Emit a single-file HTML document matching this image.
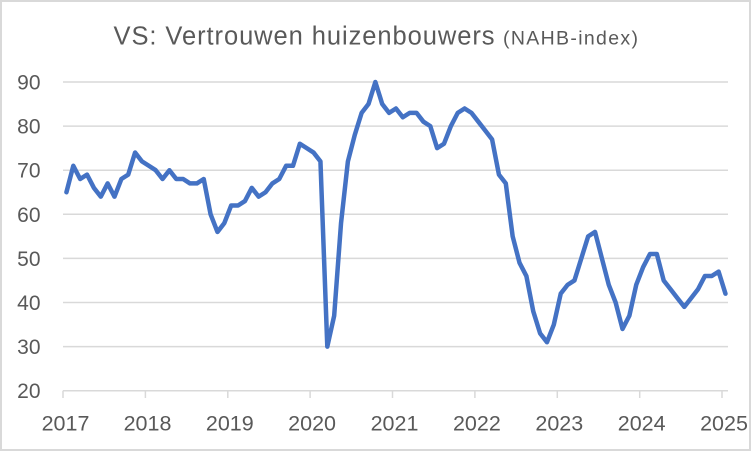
<!DOCTYPE html>
<html>
<head>
<meta charset="utf-8">
<style>
  html, body { margin: 0; padding: 0; background: #ffffff; }
  body { width: 752px; height: 452px; overflow: hidden; }
  svg { display: block; }
  text { font-family: "Liberation Sans", "DejaVu Sans", sans-serif; fill: #595959; }
</style>
</head>
<body>
<svg width="752" height="452" viewBox="0 0 752 452" xmlns="http://www.w3.org/2000/svg">
  <rect x="0" y="0" width="752" height="452" fill="#ffffff"/>
  <rect x="1" y="1" width="749" height="449" fill="none" stroke="#d9d9d9" stroke-width="2"/>

  <!-- Title -->
  <text x="113.5" y="44.3" font-size="25.5" textLength="381" lengthAdjust="spacing">VS: Vertrouwen huizenbouwers</text>
  <text x="503" y="44.3" font-size="19.5" textLength="135" lengthAdjust="spacing">(NAHB-index)</text>

  <!-- Gridlines -->
  <g stroke="#d9d9d9" stroke-width="1.5" fill="none">
    <line x1="63" y1="82" x2="728" y2="82"/>
    <line x1="63" y1="126.1" x2="728" y2="126.1"/>
    <line x1="63" y1="170.2" x2="728" y2="170.2"/>
    <line x1="63" y1="214.3" x2="728" y2="214.3"/>
    <line x1="63" y1="258.4" x2="728" y2="258.4"/>
    <line x1="63" y1="302.5" x2="728" y2="302.5"/>
    <line x1="63" y1="346.6" x2="728" y2="346.6"/>
    <line x1="63" y1="390.7" x2="728" y2="390.7"/>
    <!-- ticks -->
    <line x1="63" y1="390.7" x2="63" y2="398"/>
    <line x1="145.4" y1="390.7" x2="145.4" y2="398"/>
    <line x1="227.8" y1="390.7" x2="227.8" y2="398"/>
    <line x1="310.1" y1="390.7" x2="310.1" y2="398"/>
    <line x1="392.5" y1="390.7" x2="392.5" y2="398"/>
    <line x1="474.9" y1="390.7" x2="474.9" y2="398"/>
    <line x1="557.3" y1="390.7" x2="557.3" y2="398"/>
    <line x1="639.7" y1="390.7" x2="639.7" y2="398"/>
    <line x1="722" y1="390.7" x2="722" y2="398"/>
  </g>

  <!-- Y labels -->
  <g font-size="21" text-anchor="end">
    <text x="40.5" y="89.5">90</text>
    <text x="40.5" y="133.6">80</text>
    <text x="40.5" y="177.7">70</text>
    <text x="40.5" y="221.8">60</text>
    <text x="40.5" y="265.9">50</text>
    <text x="40.5" y="310">40</text>
    <text x="40.5" y="354.1">30</text>
    <text x="40.5" y="398.2">20</text>
  </g>

  <!-- X labels -->
  <g font-size="21.5" text-anchor="middle">
    <text x="65.5" y="430.5">2017</text>
    <text x="147.5" y="430.5">2018</text>
    <text x="229.8" y="430.5">2019</text>
    <text x="312.1" y="430.5">2020</text>
    <text x="394.5" y="430.5">2021</text>
    <text x="476.9" y="430.5">2022</text>
    <text x="559.3" y="430.5">2023</text>
    <text x="641.7" y="430.5">2024</text>
    <text x="724" y="430.5">2025</text>
  </g>

  <!-- Series -->
  <polyline transform="matrix(6.865 0 0 -4.41 66.4325 478.9)" vector-effect="non-scaling-stroke"
    fill="none" stroke="#4472C4" stroke-width="4.5" stroke-linejoin="round" stroke-linecap="round"
    points="0,65 1,71 2,68 3,69 4,66 5,64 6,67 7,64 8,68 9,69 10,74 11,72
            12,71 13,70 14,68 15,70 16,68 17,68 18,67 19,67 20,68 21,60 22,56 23,58
            24,62 25,62 26,63 27,66 28,64 29,65 30,67 31,68 32,71 33,71 34,76 35,75
            36,74 37,72 38,30 39,37 40,58 41,72 42,78 43,83 44,85 45,90 46,85 47,83
            48,84 49,82 50,83 51,83 52,81 53,80 54,75 55,76 56,80 57,83 58,84 59,83
            60,81 61,79 62,77 63,69 64,67 65,55 66,49 67,46 68,38 69,33 70,31 71,35
            72,42 73,44 74,45 75,50 76,55 77,56 78,50 79,44 80,40 81,34 82,37 83,44
            84,48 85,51 86,51 87,45 88,43 89,41 90,39 91,41 92,43 93,46 94,46 95,47 96,42"/>
</svg>
</body>
</html>
